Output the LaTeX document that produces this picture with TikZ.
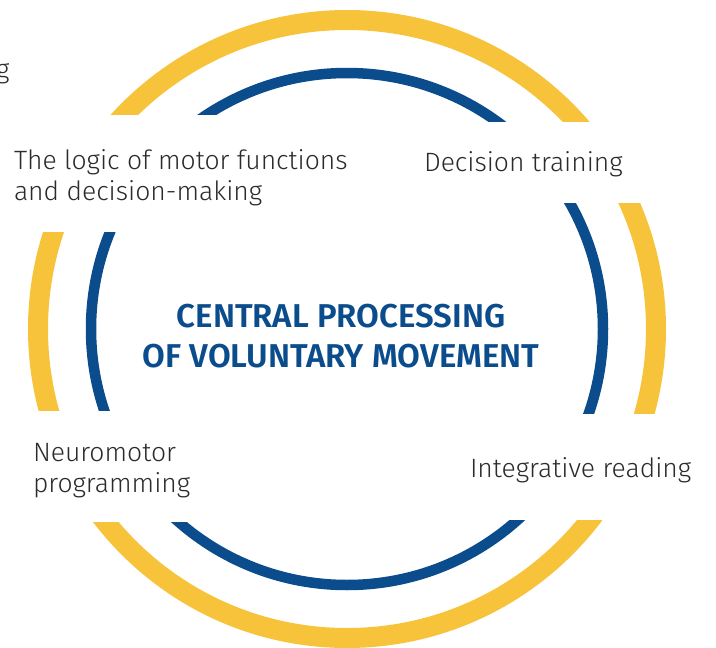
\documentclass[tikz,border=0pt]{standalone}
\usepackage{fontspec}
\setmainfont{Fira Sans}
\newfontfamily\labelfont{Fira Sans Light}
\newfontfamily\titlefont{Fira Sans SemiBold}
\definecolor{ringyellow}{HTML}{F7C33B}
\definecolor{ringblue}{HTML}{0B4C8C}
\definecolor{labelgray}{HTML}{2B2B2B}
\begin{document}
\begin{tikzpicture}[x=1pt,y=-1pt,
  label/.style={inner sep=0pt,outer sep=0pt,text=labelgray,align=left,
    font=\labelfont\fontsize{26.5}{31}\selectfont},
  title/.style={inner sep=0pt,text=ringblue,align=center,
    font=\titlefont\fontsize{33}{40}\selectfont},
  gap/.style={fill=white,draw=none}]
\useasboundingbox (0,0) rectangle (716,648);
\clip (0,0) rectangle (716,648);
\coordinate (c) at (347,329);
\draw[ringyellow,line width=20pt] (c) circle[radius=309];
\draw[ringblue,line width=10.5pt] (c) circle[radius=256];
% white bands behind the labels
\fill[gap] (0,115) rectangle (340,232);
\fill[gap] (340,122) rectangle (716,203);
\fill[gap] (0,411) rectangle (340,522);
\fill[gap] (340,414) rectangle (716,520);
% labels (base anchor of a two-line node is the last line's baseline)
\node[label,anchor=base east] (cut) at (9.5,78) {g};
\node[label,anchor=base west] (logic) at (14,200) {The logic of motor functions\\and decision-making};
\node[label,anchor=base west] (decision) at (424,171) {Decision training};
\node[label,anchor=base west] (neuro) at (33,492) {Neuromotor\\programming};
\node[label,anchor=base west] (reading) at (470,477) {Integrative reading};
\node[title,anchor=base] (central) at (341,367) {CENTRAL PROCESSING\\OF VOLUNTARY MOVEMENT};
\end{tikzpicture}
\end{document}
